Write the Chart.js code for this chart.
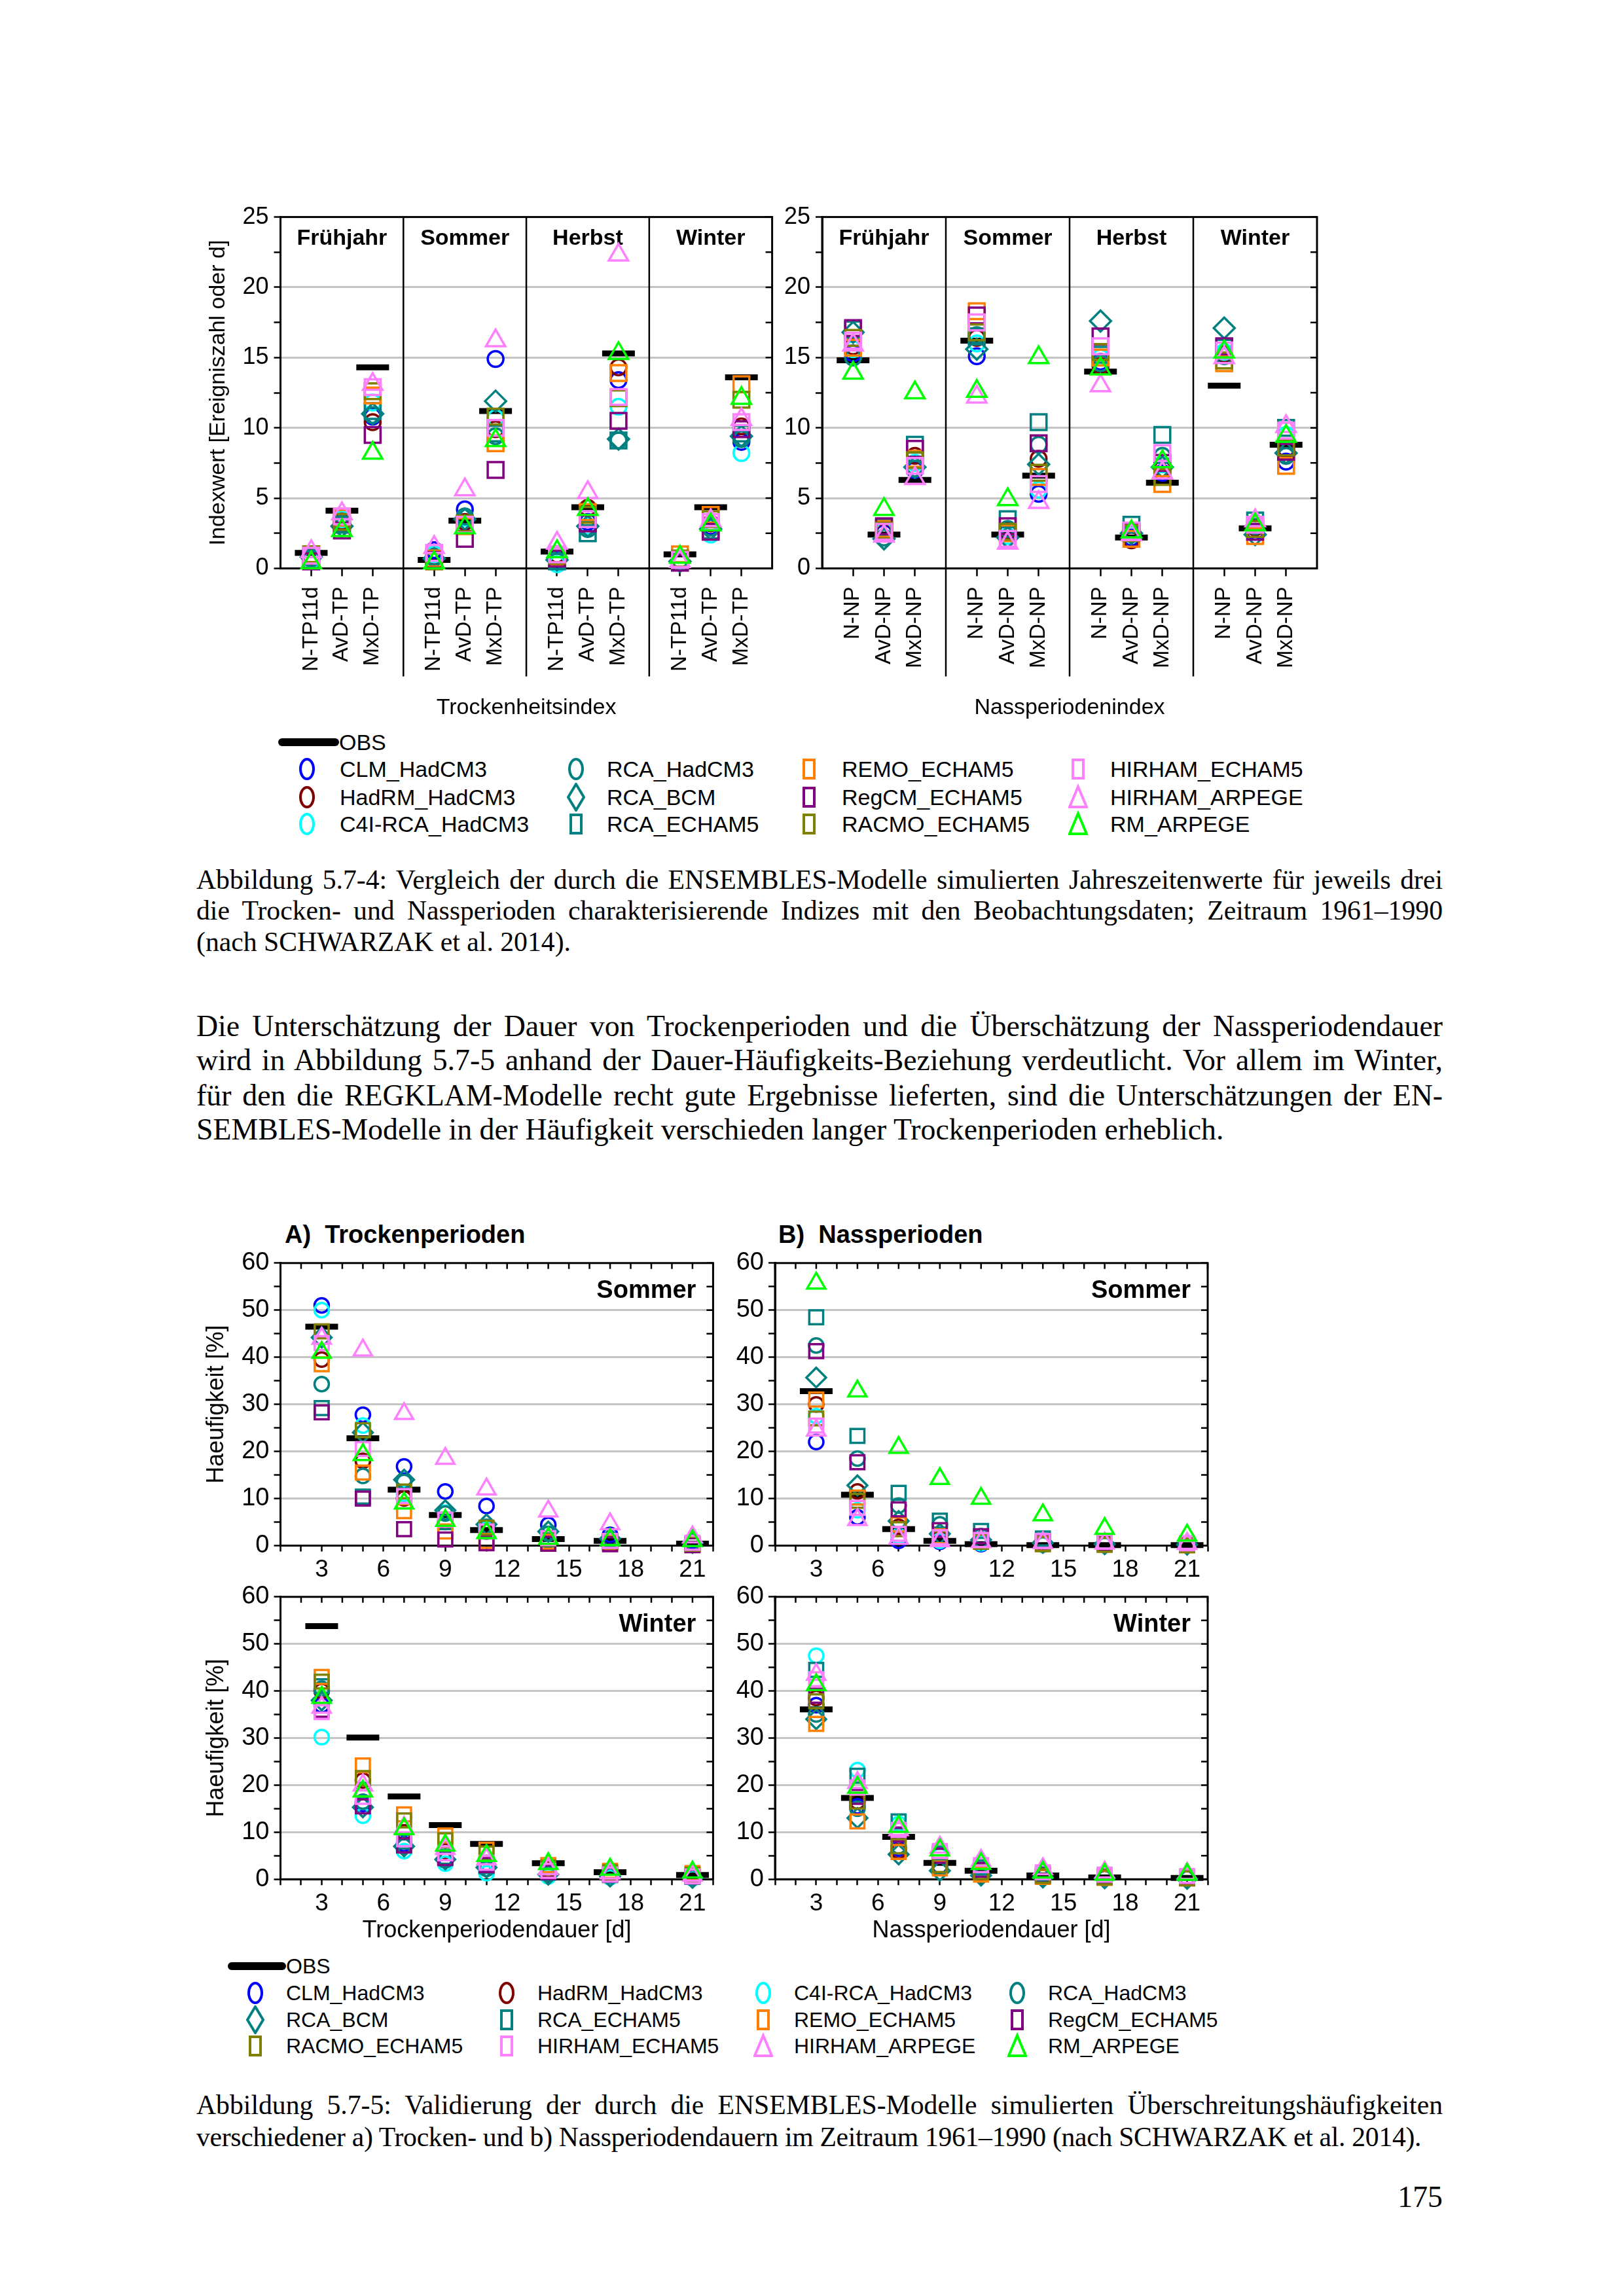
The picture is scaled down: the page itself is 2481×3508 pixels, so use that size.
<!DOCTYPE html>
<html lang="de">
<head>
<meta charset="utf-8">
<title>Abbildung 5.7-4 und 5.7-5</title>
<script src="https://cdn.jsdelivr.net/npm/chart.js@4.4.1/dist/chart.umd.min.js"></script>
<style>
  html, body { margin: 0; padding: 0; background: #fff; }
  #seite { position: relative; width: 2481px; height: 3508px; background: #fff; overflow: hidden; }
  canvas { position: absolute; }
  .txt { position: absolute; left: 300px; width: 1904px; font-family: "Liberation Serif", "Times New Roman", serif; color: #000; }
  .cap { font-size: 41.7px; line-height: 47px; }
  .fliess { font-size: 45.8px; line-height: 52px; }
  .just { text-align: justify; text-align-last: justify; }
  .frei { white-space: nowrap; }
  .diag { position: absolute; font-family: "Liberation Sans", Arial, sans-serif; color: #000; white-space: nowrap; }
  .titel { font-weight: bold; font-size: 38px; line-height: 46px; }
  .leg { font-size: 34px; line-height: 40px; }
  .leg2 { font-size: 32px; line-height: 38px; }
  .mark { position: absolute; }
</style>
</head>
<body>
<div id="seite">
  <canvas id="trockenIndex" width="890" height="802" style="left:300px;top:300px;width:890px;height:802px"></canvas>
  <canvas id="nassIndex" width="840" height="802" style="left:1190px;top:300px;width:840px;height:802px"></canvas>
  <div id="legendeOben"></div>

  <div class="txt cap just" style="top:1321px">Abbildung 5.7-4: Vergleich der durch die ENSEMBLES-Modelle simulierten Jahreszeitenwerte für jeweils drei</div>
  <div class="txt cap just" style="top:1368px">die Trocken- und Nassperioden charakterisierende Indizes mit den Beobachtungsdaten; Zeitraum 1961–1990</div>
  <div class="txt cap frei" style="top:1416px">(nach SCHWARZAK et al. 2014).</div>

  <div class="txt fliess just" style="top:1542px">Die Unterschätzung der Dauer von Trockenperioden und die Überschätzung der Nassperiodendauer</div>
  <div class="txt fliess just" style="top:1594px">wird in Abbildung 5.7-5 anhand der Dauer-Häufigkeits-Beziehung verdeutlicht. Vor allem im Winter,</div>
  <div class="txt fliess just" style="top:1648px">für den die REGKLAM-Modelle recht gute Ergebnisse lieferten, sind die Unterschätzungen der EN-</div>
  <div class="txt fliess frei" style="top:1700px">SEMBLES-Modelle in der Häufigkeit verschieden langer Trockenperioden erheblich.</div>

  <div class="diag titel" style="left:435px;top:1863px">A)&nbsp; Trockenperioden</div>
  <div class="diag titel" style="left:1189px;top:1863px">B)&nbsp; Nassperioden</div>
  <canvas id="trockenSommer" width="800" height="532" style="left:300px;top:1900px;width:800px;height:532px"></canvas>
  <canvas id="nassSommer" width="760" height="532" style="left:1110px;top:1900px;width:760px;height:532px"></canvas>
  <canvas id="trockenWinter" width="800" height="562" style="left:300px;top:2410px;width:800px;height:562px"></canvas>
  <canvas id="nassWinter" width="760" height="562" style="left:1110px;top:2410px;width:760px;height:562px"></canvas>
  <div id="legendeUnten"></div>

  <div class="txt cap just" style="top:3193px">Abbildung 5.7-5: Validierung der durch die ENSEMBLES-Modelle simulierten Überschreitungshäufigkeiten</div>
  <div class="txt cap frei" style="top:3242px;letter-spacing:-0.3px">verschiedener a) Trocken- und b) Nassperiodendauern im Zeitraum 1961–1990 (nach SCHWARZAK et al. 2014).</div>
  <div class="txt fliess" style="top:3331px;text-align:right">175</div>
</div>

<script>
// Modelle und Kategorien
const modelNames = ["CLM_HadCM3", "HadRM_HadCM3", "C4I-RCA_HadCM3", "RCA_HadCM3", "RCA_BCM", "RCA_ECHAM5",
  "REMO_ECHAM5", "RegCM_ECHAM5", "RACMO_ECHAM5", "HIRHAM_ECHAM5", "HIRHAM_ARPEGE", "RM_ARPEGE"];
const seasons = ["Frühjahr", "Sommer", "Herbst", "Winter"];
const trockenIndizes = ["N-TP11d", "AvD-TP", "MxD-TP"];
const nassIndizes = ["N-NP", "AvD-NP", "MxD-NP"];
const dauerTage = [3, 5, 7, 9, 11, 14, 17, 21];

// Abb. 5.7-4 links: Trockenheitsindex (Frühjahr, Sommer, Herbst, Winter je N-TP11d, AvD-TP, MxD-TP)
const tiOBS    = [1.1, 4.1, 14.3, 0.6, 3.4, 11.2, 1.2, 4.35, 15.3, 1.0, 4.35, 13.6];
const tiCLM    = [0.7, 3.3, 10.8, 1.3, 4.2, 14.9, 0.6, 3.3, 13.4, 0.5, 3.0, 9.0];
const tiHadRM  = [0.8, 3.4, 10.4, 0.9, 3.3, 9.9, 1.0, 4.3, 14.3, 0.6, 3.2, 10.1];
const tiC4I    = [0.6, 3.5, 11.8, 1.0, 3.6, 10.7, 0.3, 3.0, 11.5, 0.5, 2.4, 8.2];
const tiRcaHad = [0.7, 3.2, 10.9, 0.8, 3.7, 9.4, 0.5, 2.8, 9.1, 0.6, 2.9, 9.2];
const tiRcaBcm = [0.8, 3.0, 11.0, 0.7, 3.5, 11.9, 0.6, 3.0, 9.2, 0.5, 2.8, 9.4];
const tiRcaEch = [0.6, 3.1, 11.2, 0.6, 3.1, 9.6, 0.5, 2.5, 9.1, 0.6, 2.7, 9.6];
const tiRemo   = [1.0, 3.6, 12.3, 0.7, 3.0, 8.9, 0.8, 4.0, 13.9, 1.0, 3.8, 13.1];
const tiRegCM  = [0.5, 2.7, 9.5, 0.6, 2.1, 7.0, 0.7, 3.2, 10.5, 0.4, 2.6, 9.9];
const tiRacmo  = [1.0, 3.3, 12.6, 0.5, 3.2, 10.8, 0.9, 3.8, 12.1, 0.7, 3.5, 12.0];
const tiHirEch = [0.9, 3.7, 12.9, 1.1, 3.1, 10.0, 1.0, 3.5, 12.2, 0.6, 3.3, 10.4];
const tiHirArp = [1.2, 3.9, 13.1, 1.5, 5.6, 16.2, 1.8, 5.4, 22.3, 0.5, 3.4, 10.6];
const tiRmArp  = [0.4, 2.7, 8.2, 0.4, 2.9, 9.1, 1.2, 4.2, 15.3, 0.8, 3.1, 12.1];

// Abb. 5.7-4 rechts: Nassperiodenindex (je N-NP, AvD-NP, MxD-NP)
const niOBS    = [14.8, 2.4, 6.3, 16.2, 2.4, 6.6, 14.0, 2.2, 6.1, 13.0, 2.85, 8.8];
const niCLM    = [15.3, 2.5, 7.0, 15.1, 2.6, 5.3, 14.7, 2.2, 6.8, 15.2, 2.6, 7.6];
const niHadRM  = [15.8, 2.6, 8.0, 16.4, 2.7, 7.8, 14.4, 2.0, 7.1, 15.3, 2.9, 8.5];
const niC4I    = [15.6, 2.7, 7.5, 16.0, 2.3, 5.6, 15.0, 2.4, 7.4, 15.4, 3.2, 9.5];
const niRcaHad = [15.0, 2.2, 7.1, 16.6, 2.8, 8.8, 14.6, 2.7, 8.0, 15.1, 3.0, 8.0];
const niRcaBcm = [16.8, 2.1, 7.2, 15.6, 2.2, 7.4, 17.6, 2.5, 7.2, 17.1, 2.4, 8.2];
const niRcaEch = [17.0, 2.9, 8.8, 16.5, 3.5, 10.4, 15.2, 3.1, 9.5, 15.7, 3.4, 10.0];
const niRemo   = [15.7, 2.8, 7.8, 18.3, 2.5, 6.5, 15.0, 2.1, 6.0, 14.6, 2.3, 7.3];
const niRegCM  = [17.1, 3.0, 8.5, 18.0, 3.0, 8.9, 16.5, 2.6, 7.5, 15.8, 2.6, 8.3];
const niRacmo  = [16.4, 2.7, 7.7, 16.8, 2.6, 6.8, 15.4, 2.5, 6.5, 14.8, 2.8, 8.6];
const niHirEch = [16.2, 2.6, 7.3, 17.5, 2.1, 6.0, 15.8, 2.7, 8.2, 15.5, 3.1, 9.8];
const niHirArp = [15.9, 2.3, 6.4, 12.2, 1.8, 4.7, 13.0, 2.4, 6.8, 15.0, 3.4, 10.1];
const niRmArp  = [13.9, 4.2, 12.5, 12.6, 4.9, 15.0, 14.2, 2.6, 7.6, 15.4, 3.1, 9.4];

// Abb. 5.7-5: Häufigkeit [%] je Dauer (3, 5, 7, 9, 11, 14, 17, 21 d)
const tsOBS    = [46.5, 22.8, 11.9, 6.5, 3.3, 1.4, 1.0, 0.4];
const tsCLM    = [51.0, 27.8, 16.8, 11.5, 8.4, 4.4, 2.3, 1.0];
const tsHadRM  = [39.5, 18.0, 10.0, 5.0, 3.0, 1.2, 0.8, 0.4];
const tsC4I    = [50.0, 25.5, 11.0, 7.0, 3.5, 1.5, 1.0, 0.5];
const tsRcaHad = [34.3, 14.8, 13.5, 6.8, 4.0, 2.5, 1.2, 0.5];
const tsRcaBcm = [44.2, 24.0, 14.0, 7.5, 4.5, 3.0, 1.5, 0.6];
const tsRcaEch = [29.2, 10.4, 10.5, 5.0, 3.0, 1.3, 0.8, 0.3];
const tsRemo   = [38.5, 15.5, 7.3, 3.0, 1.0, 0.8, 0.5, 0.2];
const tsRegCM  = [28.3, 10.0, 3.5, 1.3, 0.5, 0.4, 0.3, 0.1];
const tsRacmo  = [45.5, 24.5, 11.5, 5.5, 3.8, 1.5, 0.9, 0.4];
const tsHirEch = [43.0, 20.5, 10.5, 5.5, 3.0, 1.6, 1.0, 0.6];
const tsHirArp = [44.0, 41.5, 28.0, 18.5, 12.0, 7.3, 4.6, 1.8];
const tsRmArp  = [41.0, 19.3, 9.0, 5.3, 2.7, 1.5, 1.2, 1.0];

const nsOBS    = [32.8, 10.8, 3.5, 1.0, 0.3, 0.1, 0.1, 0.1];
const nsCLM    = [22.0, 6.0, 1.0, 0.8, 0.3, 0.2, 0.1, 0.1];
const nsHadRM  = [30.0, 11.5, 4.0, 1.5, 0.8, 0.3, 0.2, 0.1];
const nsC4I    = [27.5, 7.5, 2.0, 1.0, 0.5, 0.2, 0.1, 0.1];
const nsRcaHad = [42.5, 18.5, 8.5, 4.5, 2.0, 1.0, 0.5, 0.2];
const nsRcaBcm = [35.7, 12.8, 5.2, 2.5, 1.2, 0.6, 0.3, 0.2];
const nsRcaEch = [48.5, 23.3, 11.2, 5.3, 3.1, 1.5, 0.8, 0.4];
const nsRemo   = [31.0, 10.2, 4.5, 2.0, 1.0, 0.4, 0.2, 0.1];
const nsRegCM  = [41.3, 17.7, 7.7, 3.3, 2.0, 0.9, 0.5, 0.2];
const nsRacmo  = [27.0, 9.5, 3.5, 1.5, 0.8, 0.3, 0.2, 0.1];
const nsHirEch = [25.5, 8.0, 2.5, 1.8, 1.2, 1.0, 0.8, 0.5];
const nsHirArp = [24.5, 5.5, 1.5, 1.0, 0.8, 0.6, 0.5, 0.4];
const nsRmArp  = [55.7, 32.8, 20.8, 14.2, 10.0, 6.5, 3.6, 2.2];

const twOBS    = [53.8, 30.1, 17.6, 11.5, 7.5, 3.4, 1.5, 0.9];
const twCLM    = [37.0, 16.0, 7.5, 4.5, 3.0, 1.5, 0.8, 0.5];
const twHadRM  = [40.0, 21.0, 10.0, 6.0, 3.5, 2.0, 1.2, 0.7];
const twC4I    = [30.2, 13.5, 6.0, 3.3, 1.3, 0.6, 0.4, 0.2];
const twRcaHad = [40.5, 16.5, 7.0, 4.0, 2.2, 1.2, 0.8, 0.4];
const twRcaBcm = [38.0, 15.3, 7.0, 4.2, 2.5, 1.0, 0.6, 0.3];
const twRcaEch = [41.0, 19.0, 8.0, 4.8, 2.8, 1.4, 0.9, 0.5];
const twRemo   = [43.0, 24.2, 13.8, 9.3, 6.3, 3.0, 1.8, 1.3];
const twRegCM  = [36.0, 15.5, 7.2, 4.5, 3.0, 1.5, 1.0, 0.6];
const twRacmo  = [42.0, 21.5, 12.5, 8.3, 5.5, 2.5, 1.5, 1.0];
const twHirEch = [35.5, 17.5, 8.5, 5.5, 3.5, 1.8, 1.0, 0.6];
const twHirArp = [36.5, 20.0, 11.0, 6.5, 4.3, 2.2, 1.3, 0.8];
const twRmArp  = [38.6, 18.7, 10.7, 7.2, 5.0, 3.3, 2.1, 1.5];

const nwOBS    = [36.1, 17.3, 9.0, 3.5, 1.8, 0.8, 0.4, 0.3];
const nwCLM    = [37.0, 15.5, 6.5, 2.8, 1.2, 0.5, 0.3, 0.2];
const nwHadRM  = [38.5, 16.5, 6.0, 2.5, 1.2, 0.6, 0.3, 0.2];
const nwC4I    = [47.5, 23.2, 11.8, 5.0, 2.5, 1.0, 0.6, 0.4];
const nwRcaHad = [35.0, 15.0, 7.0, 2.5, 1.0, 0.5, 0.3, 0.2];
const nwRcaBcm = [34.0, 13.0, 5.3, 1.8, 0.8, 0.4, 0.2, 0.1];
const nwRcaEch = [44.5, 22.0, 12.3, 5.5, 2.5, 1.2, 0.7, 0.4];
const nwRemo   = [33.0, 12.3, 5.8, 2.3, 1.0, 0.5, 0.3, 0.2];
const nwRegCM  = [39.0, 17.5, 9.5, 5.0, 2.0, 0.8, 0.5, 0.3];
const nwRacmo  = [37.8, 16.5, 7.0, 3.0, 1.5, 0.7, 0.4, 0.2];
const nwHirEch = [42.5, 19.5, 10.5, 6.0, 3.0, 1.5, 1.0, 0.7];
const nwHirArp = [43.5, 20.5, 10.5, 6.8, 4.0, 2.2, 1.5, 1.2];
const nwRmArp  = [41.3, 19.5, 11.2, 6.2, 3.3, 1.5, 1.0, 1.0];

// Symbole der Modelle (Reihenfolge wie modelNames)
const modelStil = [
  { form: "circle", farbe: "#0000ff" },
  { form: "circle", farbe: "#800000" },
  { form: "circle", farbe: "#00ffff" },
  { form: "circle", farbe: "#008080" },
  { form: "rectRot", farbe: "#008080" },
  { form: "rect", farbe: "#008080" },
  { form: "rect", farbe: "#ff8000" },
  { form: "rect", farbe: "#800080" },
  { form: "rect", farbe: "#808000" },
  { form: "rect", farbe: "#ff80ff" },
  { form: "triangle", farbe: "#ff80ff" },
  { form: "triangle", farbe: "#00ff00" }
];

const schrift = "'Liberation Sans', Arial, sans-serif";
Chart.defaults.font.family = schrift;
Chart.defaults.color = "#000";

// Position der Indizes auf der x-Achse: je Jahreszeit 3 Indizes, Trennlinie dazwischen
const kategorienPos = seasons.flatMap((s, si) => trockenIndizes.map((_, i) => si * 4 + i + 1));
const trennPos = [4, 8, 12];

const groesseOben = { circle: 12, rect: 17, rectRot: 16, triangle: 17, obs: 25 };
const groesseUnten = { circle: 11, rect: 15, rectRot: 15, triangle: 16, obs: 25 };

function datensaetze(obs, modelle, xWerte, g) {
  const sets = [{
    label: "OBS",
    data: obs.map((v, i) => ({ x: xWerte[i], y: v })),
    pointStyle: "line", pointRadius: g.obs, borderColor: "#000", borderWidth: 9,
    clip: false, order: 20
  }];
  modelle.forEach((werte, m) => {
    const st = modelStil[m];
    sets.push({
      label: modelNames[m],
      data: werte.map((v, i) => ({ x: xWerte[i], y: v })),
      pointStyle: st.form, pointRadius: g[st.form],
      borderColor: st.farbe, backgroundColor: "rgba(0,0,0,0)", borderWidth: 3.5,
      clip: false, order: 12 - m
    });
  });
  return sets;
}

// Rahmen, Ticks innen, Trennlinien und Beschriftung im Diagramm
const rahmenPlugin = {
  id: "rahmen",
  beforeDatasetsDraw(chart, args, opts) {
    const { ctx, chartArea: a, scales: { x, y } } = chart;
    ctx.save();
    ctx.strokeStyle = "#000";
    ctx.lineWidth = 3;
    ctx.strokeRect(a.left, a.top, a.right - a.left, a.bottom - a.top);
    ctx.lineWidth = 2.5;
    ctx.beginPath();
    y.ticks.forEach(t => {
      const py = y.getPixelForValue(t.value);
      ctx.moveTo(a.right, py);
      ctx.lineTo(a.right - 10, py);
    });
    if (opts.obenTicks) {
      x.ticks.forEach(t => {
        const px = x.getPixelForValue(t.value);
        ctx.moveTo(px, a.top);
        ctx.lineTo(px, a.top + 9);
      });
    }
    ctx.stroke();
    if (opts.trenner) {
      ctx.lineWidth = 2.5;
      ctx.beginPath();
      opts.trenner.forEach(v => {
        const px = x.getPixelForValue(v);
        ctx.moveTo(px, a.top);
        ctx.lineTo(px, a.bottom + 165);
      });
      ctx.stroke();
    }
    ctx.fillStyle = "#000";
    if (opts.jahreszeiten) {
      ctx.font = "bold 34px " + schrift;
      ctx.textAlign = "center";
      ctx.textBaseline = "middle";
      opts.jahreszeiten.forEach((s, i) => {
        ctx.fillText(s, x.getPixelForValue(i * 4 + 2), a.top + 33);
      });
    }
    if (opts.panel) {
      ctx.font = "bold 38px " + schrift;
      ctx.textAlign = "right";
      ctx.textBaseline = "middle";
      ctx.fillText(opts.panel, a.right - 26, a.top + 43);
    }
    ctx.restore();
  }
};

const gitterFarbe = "#c4c4c4";

function indexDiagramm(id, obs, modelle, labels, o) {
  return new Chart(document.getElementById(id), {
    type: "scatter",
    data: { datasets: datensaetze(obs, modelle, kategorienPos, groesseOben) },
    options: {
      responsive: false, animation: false, devicePixelRatio: 1, events: [],
      layout: { autoPadding: false, padding: { top: 31.6, right: o.padRight, left: 0, bottom: 0 } },
      plugins: {
        legend: { display: false }, tooltip: { enabled: false },
        rahmen: { trenner: trennPos, jahreszeiten: seasons }
      },
      scales: {
        x: {
          type: "linear", min: 0, max: 16,
          afterBuildTicks: ax => { ax.ticks = kategorienPos.map(v => ({ value: v })); },
          afterFit: ax => { ax.height = 233.6; },
          ticks: {
            autoSkip: false, minRotation: 90, maxRotation: 90, padding: 16,
            font: { size: 33 }, callback: (v, i) => labels[i % 3]
          },
          grid: { drawOnChartArea: false, drawTicks: true, tickLength: 12, tickColor: "#000", tickWidth: 2.5 },
          border: { color: "#000", width: 3 },
          title: { display: true, text: o.xTitel, font: { size: 34 }, padding: { top: 0, bottom: 0 } }
        },
        y: {
          min: 0, max: 25,
          afterFit: ax => { ax.width = o.yBreite; },
          ticks: { stepSize: 2.5, autoSkip: false, padding: 8, font: { size: 36 },
            callback: v => (v % 5 === 0 ? v : "") },
          grid: {
            color: c => (c.tick && c.tick.value % 5 === 0 && c.tick.value > 0 && c.tick.value < 25) ? gitterFarbe : "rgba(0,0,0,0)",
            lineWidth: 3, tickLength: 10, tickColor: "#000", tickWidth: 2.5
          },
          border: { color: "#000", width: 3 },
          title: { display: !!o.yTitel, text: o.yTitel || "", font: { size: 34 }, padding: { top: 13.6, bottom: 0 } }
        }
      }
    },
    plugins: [rahmenPlugin]
  });
}

function dauerDiagramm(id, obs, modelle, o) {
  return new Chart(document.getElementById(id), {
    type: "scatter",
    data: { datasets: datensaetze(obs, modelle, dauerTage, groesseUnten) },
    options: {
      responsive: false, animation: false, devicePixelRatio: 1, events: [],
      layout: { autoPadding: false, padding: { top: o.padTop, right: o.padRight, left: 0, bottom: 0 } },
      plugins: {
        legend: { display: false }, tooltip: { enabled: false },
        rahmen: { obenTicks: true, panel: o.panel }
      },
      scales: {
        x: {
          type: "linear", min: 1, max: 22,
          afterFit: ax => { ax.height = o.xHoehe; },
          ticks: { stepSize: 1, autoSkip: false, maxRotation: 0, padding: 6, font: { size: 37 },
            callback: v => (v % 3 === 0 ? v : "") },
          grid: { drawOnChartArea: false, drawTicks: true, tickLength: 9, tickColor: "#000", tickWidth: 2.5 },
          border: { color: "#000", width: 3 },
          title: { display: !!o.xTitel, text: o.xTitel || "", font: { size: 36 }, padding: { top: 0, bottom: 0 } }
        },
        y: {
          min: 0, max: 60,
          afterFit: ax => { ax.width = o.yBreite; },
          ticks: { stepSize: 5, autoSkip: false, padding: 7, font: { size: 38 },
            callback: v => (v % 10 === 0 ? v : "") },
          grid: {
            color: c => (c.tick && c.tick.value % 10 === 0 && c.tick.value > 0 && c.tick.value < 60) ? gitterFarbe : "rgba(0,0,0,0)",
            lineWidth: 3, tickLength: 10, tickColor: "#000", tickWidth: 2.5
          },
          border: { color: "#000", width: 3 },
          title: { display: !!o.yTitel, text: o.yTitel || "", font: { size: 36 }, padding: { top: 9.4, bottom: 0 } }
        }
      }
    },
    plugins: [rahmenPlugin]
  });
}

indexDiagramm("trockenIndex", tiOBS,
  [tiCLM, tiHadRM, tiC4I, tiRcaHad, tiRcaBcm, tiRcaEch, tiRemo, tiRegCM, tiRacmo, tiHirEch, tiHirArp, tiRmArp],
  trockenIndizes, { padRight: 10.4, yBreite: 128.5, xTitel: "Trockenheitsindex", yTitel: "Indexwert [Ereigniszahl oder d]" });
indexDiagramm("nassIndex", niOBS,
  [niCLM, niHadRM, niC4I, niRcaHad, niRcaBcm, niRcaEch, niRemo, niRegCM, niRacmo, niHirEch, niHirArp, niRmArp],
  nassIndizes, { padRight: 18, yBreite: 66, xTitel: "Nassperiodenindex" });

dauerDiagramm("trockenSommer", tsOBS,
  [tsCLM, tsHadRM, tsC4I, tsRcaHad, tsRcaBcm, tsRcaEch, tsRemo, tsRegCM, tsRacmo, tsHirEch, tsHirArp, tsRmArp],
  { padTop: 26, padRight: 10.6, yBreite: 128.5, xHoehe: 70.5, panel: "Sommer", yTitel: "Haeufigkeit [%]" });
dauerDiagramm("nassSommer", nsOBS,
  [nsCLM, nsHadRM, nsC4I, nsRcaHad, nsRcaBcm, nsRcaEch, nsRemo, nsRegCM, nsRacmo, nsHirEch, nsHirArp, nsRmArp],
  { padTop: 26, padRight: 25, yBreite: 74, xHoehe: 70.5, panel: "Sommer" });
dauerDiagramm("trockenWinter", twOBS,
  [twCLM, twHadRM, twC4I, twRcaHad, twRcaBcm, twRcaEch, twRemo, twRegCM, twRacmo, twHirEch, twHirArp, twRmArp],
  { padTop: 23.7, padRight: 10.6, yBreite: 128.5, xHoehe: 100.7, panel: "Winter",
    yTitel: "Haeufigkeit [%]", xTitel: "Trockenperiodendauer [d]" });
dauerDiagramm("nassWinter", nwOBS,
  [nwCLM, nwHadRM, nwC4I, nwRcaHad, nwRcaBcm, nwRcaEch, nwRemo, nwRegCM, nwRacmo, nwHirEch, nwHirArp, nwRmArp],
  { padTop: 23.7, padRight: 25, yBreite: 74, xHoehe: 100.7, panel: "Winter", xTitel: "Nassperiodendauer [d]" });

// Legenden (HTML mit SVG-Symbolen)
function markerSvg(form, farbe) {
  let inner = "";
  if (form === "circle") inner = '<ellipse cx="15" cy="22" rx="10" ry="15"/>';
  else if (form === "rect") inner = '<rect x="7" y="8" width="16" height="28"/>';
  else if (form === "rectRot") inner = '<polygon points="15,2 27,22 15,42 3,22"/>';
  else inner = '<polygon points="15,6 28,37 2,37"/>';
  return '<svg width="30" height="44" viewBox="0 0 30 44" fill="none" stroke="' + farbe +
    '" stroke-width="4">' + inner + "</svg>";
}

function legendeBauen(ziel, o) {
  const box = document.getElementById(ziel);
  let html = '<svg class="mark" style="left:' + (o.obsX - 6) + 'px;top:' + (o.obsY - 10) +
    'px" width="' + (o.obsLen + 12) + '" height="20"><line x1="6" y1="10" x2="' + (o.obsLen + 6) +
    '" y2="10" stroke="#000" stroke-width="12" stroke-linecap="round"/></svg>';
  html += '<div class="diag ' + o.klasse + '" style="left:' + (o.obsX + o.obsLen + 6) + 'px;top:' +
    (o.obsY - o.lh / 2) + 'px">OBS</div>';
  modelNames.forEach((name, m) => {
    const sp = o.spaltenweise ? Math.floor(m / 3) : m % 4;
    const ze = o.spaltenweise ? m % 3 : Math.floor(m / 4);
    const y = o.zeilen[ze];
    html += '<div class="mark" style="left:' + (o.markX[sp] - 15) + 'px;top:' + (y - 22) + 'px">' +
      markerSvg(modelStil[m].form, modelStil[m].farbe) + "</div>";
    html += '<div class="diag ' + o.klasse + '" style="left:' + o.textX[sp] + 'px;top:' + (y - o.lh / 2) +
      'px">' + name + "</div>";
  });
  box.innerHTML = html;
}

legendeBauen("legendeOben", {
  obsX: 431, obsY: 1134, obsLen: 81, klasse: "leg", lh: 40, spaltenweise: true,
  markX: [469, 880, 1236, 1647], textX: [519, 927, 1286, 1696], zeilen: [1175, 1218, 1259]
});
legendeBauen("legendeUnten", {
  obsX: 354, obsY: 3004, obsLen: 77, klasse: "leg2", lh: 38, spaltenweise: false,
  markX: [390, 774, 1166, 1554], textX: [437, 821, 1213, 1601], zeilen: [3045, 3086, 3126]
});
</script>
</body>
</html>
